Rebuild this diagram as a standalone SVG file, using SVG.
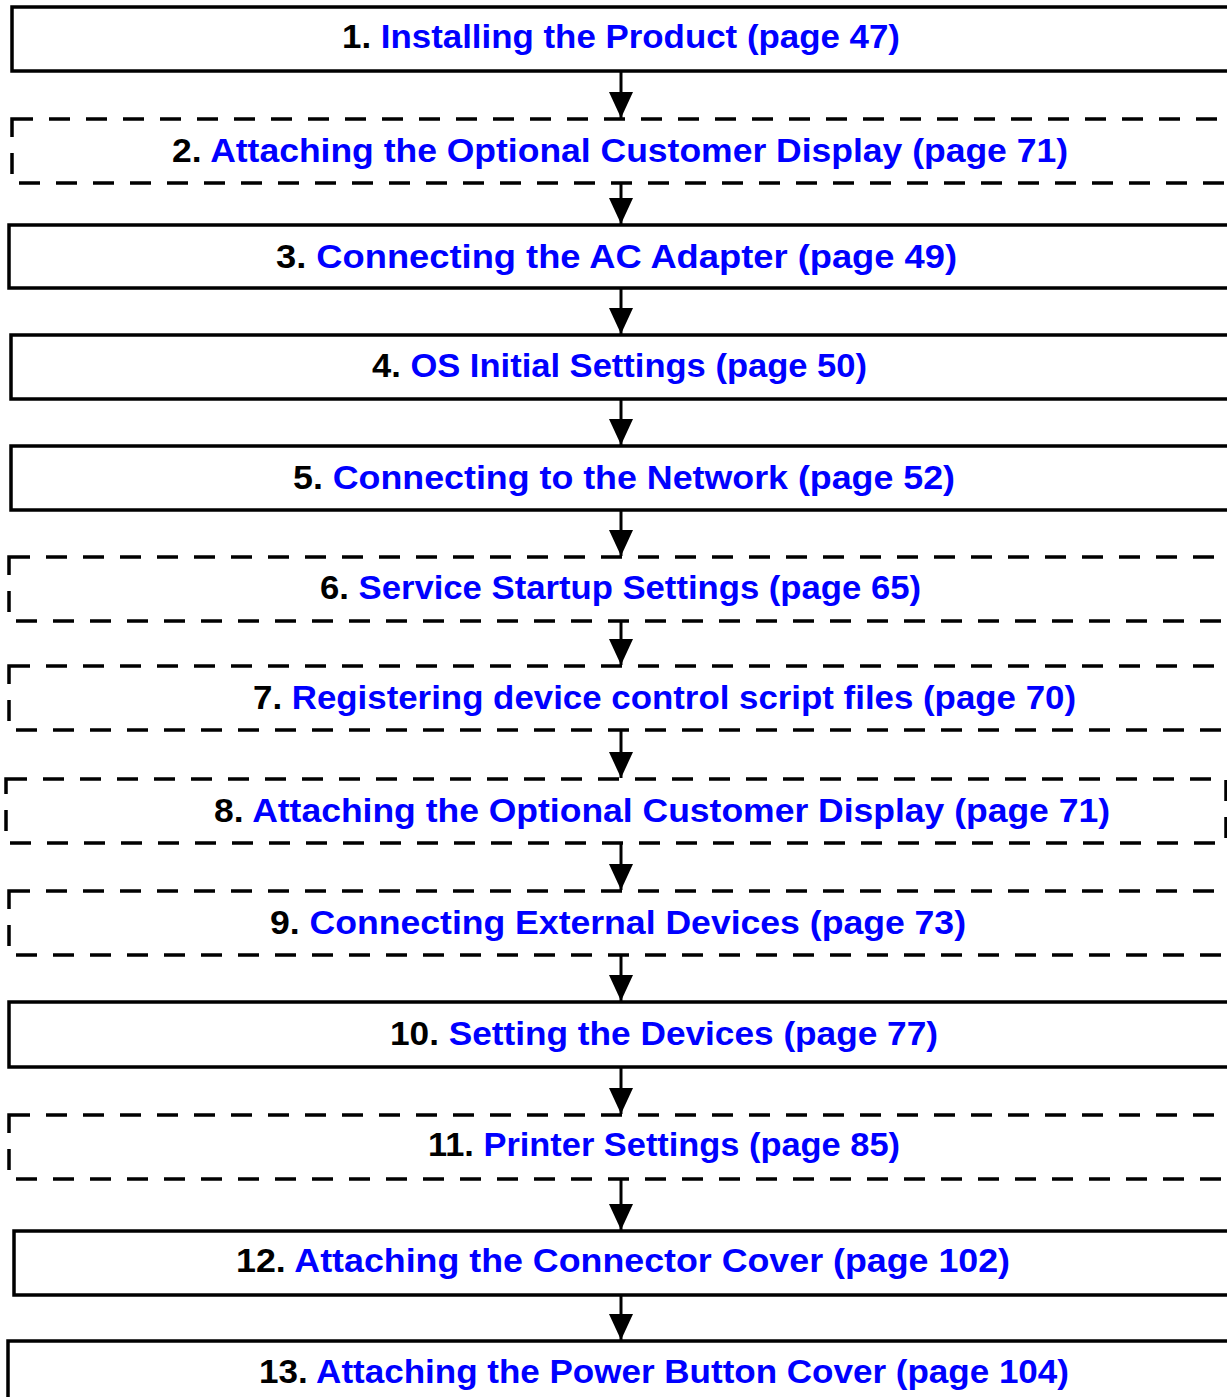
<svg xmlns="http://www.w3.org/2000/svg" width="1227" height="1397" viewBox="0 0 1227 1397">
<style>
.box{fill:#fff;stroke:#000;stroke-width:3.5}
.dash{stroke-dasharray:21 16}
.t{font-family:"Liberation Sans",Arial,sans-serif;font-weight:bold;font-size:34px;fill:#0000ff}
.n{fill:#000}
.c{stroke:#000;stroke-width:3;fill:none}
</style>
<defs>
<marker id="ah" viewBox="0 0 26 24" refX="26" refY="12" markerWidth="26" markerHeight="24" markerUnits="userSpaceOnUse" orient="auto">
<path d="M0,0 L26,12 L0,24 Z" fill="#000"/>
</marker>
</defs>
<rect width="1227" height="1397" fill="#fff"/>
<g id="connectors">
<line class="c" x1="621" y1="71" x2="621" y2="118" marker-end="url(#ah)"/>
<line class="c" x1="621" y1="183" x2="621" y2="224" marker-end="url(#ah)"/>
<line class="c" x1="621" y1="288" x2="621" y2="334" marker-end="url(#ah)"/>
<line class="c" x1="621" y1="399" x2="621" y2="445" marker-end="url(#ah)"/>
<line class="c" x1="621" y1="510" x2="621" y2="556" marker-end="url(#ah)"/>
<line class="c" x1="621" y1="621" x2="621" y2="665" marker-end="url(#ah)"/>
<line class="c" x1="621" y1="730" x2="621" y2="778" marker-end="url(#ah)"/>
<line class="c" x1="621" y1="843" x2="621" y2="890" marker-end="url(#ah)"/>
<line class="c" x1="621" y1="955" x2="621" y2="1001" marker-end="url(#ah)"/>
<line class="c" x1="621" y1="1067" x2="621" y2="1114" marker-end="url(#ah)"/>
<line class="c" x1="621" y1="1179" x2="621" y2="1230" marker-end="url(#ah)"/>
<line class="c" x1="621" y1="1295" x2="621" y2="1340" marker-end="url(#ah)"/>
</g>
<g id="n1"><rect class="box" x="12" y="7" width="1240" height="64"/><text class="t" x="342" y="48" textLength="558" lengthAdjust="spacingAndGlyphs"><tspan class="n">1. </tspan>Installing the Product (page 47)</text></g>
<g id="n2"><rect class="box dash" x="12" y="119" width="1240" height="64"/><text class="t" x="172" y="162" textLength="896" lengthAdjust="spacingAndGlyphs"><tspan class="n">2. </tspan>Attaching the Optional Customer Display (page 71)</text></g>
<g id="n3"><rect class="box" x="9" y="225" width="1240" height="63"/><text class="t" x="276" y="268" textLength="681" lengthAdjust="spacingAndGlyphs"><tspan class="n">3. </tspan>Connecting the AC Adapter (page 49)</text></g>
<g id="n4"><rect class="box" x="11" y="335" width="1240" height="64"/><text class="t" x="372" y="377" textLength="495" lengthAdjust="spacingAndGlyphs"><tspan class="n">4. </tspan>OS Initial Settings (page 50)</text></g>
<g id="n5"><rect class="box" x="11" y="446" width="1240" height="64"/><text class="t" x="293" y="489" textLength="662" lengthAdjust="spacingAndGlyphs"><tspan class="n">5. </tspan>Connecting to the Network (page 52)</text></g>
<g id="n6"><rect class="box dash" x="9" y="557" width="1240" height="64"/><text class="t" x="320" y="599" textLength="601" lengthAdjust="spacingAndGlyphs"><tspan class="n">6. </tspan>Service Startup Settings (page 65)</text></g>
<g id="n7"><rect class="box dash" x="9" y="666" width="1240" height="64"/><text class="t" x="253" y="709" textLength="823" lengthAdjust="spacingAndGlyphs"><tspan class="n">7. </tspan>Registering device control script files (page 70)</text></g>
<g id="n8"><rect class="box dash" x="6" y="779" width="1220" height="64"/><text class="t" x="214" y="822" textLength="896" lengthAdjust="spacingAndGlyphs"><tspan class="n">8. </tspan>Attaching the Optional Customer Display (page 71)</text></g>
<g id="n9"><rect class="box dash" x="9" y="891" width="1240" height="64"/><text class="t" x="270" y="934" textLength="696" lengthAdjust="spacingAndGlyphs"><tspan class="n">9. </tspan>Connecting External Devices (page 73)</text></g>
<g id="n10"><rect class="box" x="9" y="1002" width="1240" height="65"/><text class="t" x="390" y="1045" textLength="548" lengthAdjust="spacingAndGlyphs"><tspan class="n">10. </tspan>Setting the Devices (page 77)</text></g>
<g id="n11"><rect class="box dash" x="9" y="1115" width="1240" height="64"/><text class="t" x="428" y="1156" textLength="472" lengthAdjust="spacingAndGlyphs"><tspan class="n">11. </tspan>Printer Settings (page 85)</text></g>
<g id="n12"><rect class="box" x="14" y="1231" width="1240" height="64"/><text class="t" x="236" y="1272" textLength="774" lengthAdjust="spacingAndGlyphs"><tspan class="n">12. </tspan>Attaching the Connector Cover (page 102)</text></g>
<g id="n13"><rect class="box" x="8" y="1341" width="1240" height="80"/><text class="t" x="259" y="1383" textLength="810" lengthAdjust="spacingAndGlyphs"><tspan class="n">13. </tspan>Attaching the Power Button Cover (page 104)</text></g>
</svg>
